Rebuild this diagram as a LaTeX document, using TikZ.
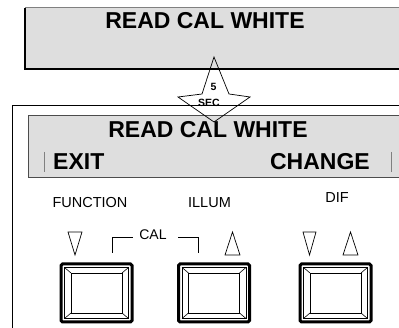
\documentclass[tikz,border=0pt]{standalone}
\usepackage{fontspec}
\setmainfont{Liberation Sans}
\definecolor{lcd}{RGB}{222,222,222}
\begin{document}
\begin{tikzpicture}[x=1pt,y=-1pt,
  big/.style={font=\bfseries\fontsize{23}{23}\selectfont, inner sep=0, anchor=base},
  lab/.style={font=\fontsize{14.5}{14.5}\selectfont, inner sep=0, anchor=base},
  sectext/.style={font=\bfseries\fontsize{10.5}{10.5}\selectfont, inner sep=0, anchor=base},
  tri/.style={line width=0.7pt, line join=miter},
  frameline/.style={line width=1pt},
  btnouter/.style={line width=3pt, rounded corners=1.5pt},
  btninner/.style={line width=0.6pt}]
\useasboundingbox (0,0) rectangle (399,328);
% top display
\fill[lcd] (25,8) rectangle (402,69);
\draw[gray, line width=1pt] (25,8) -- (402,8);
\draw[black, line width=1.2pt] (402,69) -- (25,69) -- (25,8);
\node[big] (toptitle) at (205,29) {READ CAL WHITE};
% outer panel
\draw[frameline] (12,332) -- (12,106) -- (402,106);
% LCD
\fill[lcd] (28,116) rectangle (402,178);
\draw[gray!60!black, line width=1pt] (402,116) -- (28,116) -- (28,178) -- (402,178);
\node[big] (lcdtitle) at (208,138) {READ CAL WHITE};
\node[big, anchor=base west] (exit) at (53,170) {EXIT};
\node[big, anchor=base east] (change) at (370,170) {CHANGE};
\draw[gray, line width=0.8pt] (44,152) -- (44,172);
\draw[gray, line width=0.8pt] (391,152) -- (391,172);
% star
\draw[line width=0.7pt, line join=miter] (214,57) -- (229,94) -- (250,97) -- (214,122) -- (178,97) -- (202,94) -- cycle;
\node[sectext] (five) at (213.5,91) {5};
\node[sectext] (sec) at (209,107) {SEC};
% labels
\node[lab] (function) at (90,208) {FUNCTION};
\node[lab] (illum) at (209.5,208) {ILLUM};
\node[lab] (dif) at (337,203) {DIF};
\node[lab, font=\fontsize{14}{14}\selectfont] (cal) at (153,240) {CAL};
\draw[tri] (112,253) -- (112,237) -- (133,237);
\draw[tri] (178,237) -- (198,237) -- (198,253);
% triangles
\draw[tri] (68,232) -- (82,232) -- (75,255) -- cycle;
\draw[tri] (225,255) -- (240,255) -- (232.5,232) -- cycle;
\draw[tri] (303,232) -- (316,232) -- (309.5,255) -- cycle;
\draw[tri] (343,255) -- (358,255) -- (350.5,232) -- cycle;
% buttons
\foreach \bx in {61,178.5,300}{
  \begin{scope}[shift={(\bx,264)}]
    \draw[btnouter] (0,0) rectangle (71,58);
    \draw[btninner] (3.5,3.5) rectangle (67.5,54.5);
    \draw[btninner] (10,9) rectangle (61,49);
    \draw[btninner] (3.5,3.5) -- (10,9);
    \draw[btninner] (67.5,3.5) -- (61,9);
    \draw[btninner] (3.5,54.5) -- (10,49);
    \draw[btninner] (67.5,54.5) -- (61,49);
  \end{scope}
}
\end{tikzpicture}
\end{document}
